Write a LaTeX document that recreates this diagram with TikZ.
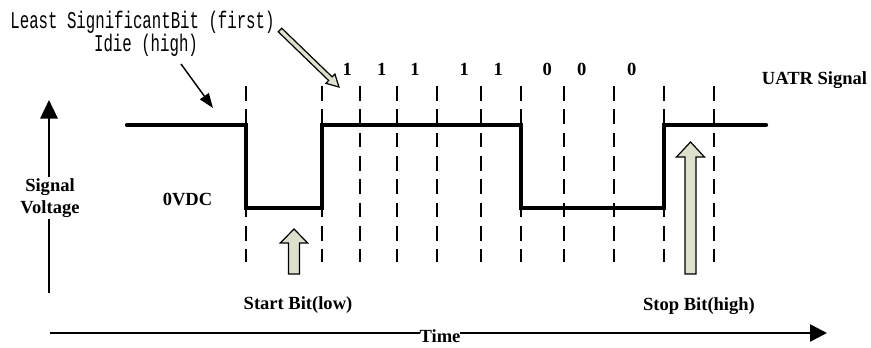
\documentclass[tikz,border=0pt]{standalone}
\usepackage{fontspec}
\usepackage{graphicx}
\setmainfont{Liberation Serif}
\newfontfamily\monofont{Liberation Mono}
\usetikzlibrary{arrows.meta}
\definecolor{blockfill}{RGB}{221,224,205}
\begin{document}
\begin{tikzpicture}[x=0.75pt,y=-0.75pt,
  lbl/.style={font=\fontsize{13.9}{16.5}\selectfont\bfseries, inner sep=0pt},
  mono/.style={font=\fontsize{18}{20}\selectfont\monofont, inner sep=0pt},
  signal/.style={line width=3.2pt, line cap=round, line join=miter},
  gridline/.style={line width=0.95pt, dash pattern=on 11pt off 6.5pt},
  axis/.style={line width=1.9pt},
  blockarrow/.style={draw=black, line width=0.9pt, fill=blockfill, line join=miter},
  pointer/.style={line width=1.1pt, -{Triangle[length=11pt,width=8pt]}},
]
\useasboundingbox (0,0) rectangle (871,347);

% dashed bit boundaries
\foreach \x in {246,322,360,397,437,481,521,564,614,664,714}
  \draw[gridline] (\x,86) -- (\x,262);

% signal waveform
\draw[signal] (127,125) -- (246,125) -- (246,208) -- (322,208) -- (322,125)
  -- (521,125) -- (521,208) -- (664,208) -- (664,125) -- (766,125);

% axes
\coordinate (vbot) at (49,293);
\coordinate (vtop) at (49,100);
\draw[axis, -{Triangle[length=14pt,width=13pt]}] (vbot) -- (vtop);
\coordinate (hl) at (50,333);
\coordinate (hr) at (827,333);
\draw[axis, -{Triangle[length=12.75pt,width=12.75pt]}] (hl) -- (hr);

% labels on axes
\node[lbl, fill=white, align=center, inner sep=1.5pt] (sv) at (50,198) {Signal\\Voltage};
\node[lbl, fill=white, anchor=base] (time) at (440,342) {Time};

% block arrows
\draw[blockarrow] (288.5,274) -- (288.5,243) -- (280.3,243) -- (294,229)
  -- (307.7,243) -- (299.5,243) -- (299.5,274) -- cycle;
\draw[blockarrow] (685,274) -- (685,157) -- (676.5,157) -- (690.5,142)
  -- (704.5,157) -- (696,157) -- (696,274) -- cycle;
\draw[blockarrow] (278.26,31.80) -- (328.63,80.46) -- (325.85,83.34) -- (339,87)
  -- (334.89,73.98) -- (332.11,76.86) -- (281.74,28.20) -- cycle;

% idle pointer
\coordinate (ids) at (181,64);
\coordinate (idt) at (213,108);
\draw[pointer] (ids) -- (idt);

% texts
\node[mono, anchor=base] (lsb) at (142.5,28) {\scalebox{0.655}[1]{Least SignificantBit (first)}};
\node[mono, anchor=base] (idle) at (146,51) {\scalebox{0.655}[1]{Idie (high)}};
\node[lbl, anchor=base] (uatr) at (814.5,84) {UATR Signal};
\node[lbl, anchor=base] (zv) at (187.5,205) {0VDC};
\node[lbl, anchor=base] (start) at (298,309) {Start Bit(low)};
\node[lbl, anchor=base] (stop) at (699,310) {Stop Bit(high)};

\node[lbl, anchor=base] (b1) at (347.3,75) {1};
\node[lbl, anchor=base] (b2) at (381.7,75) {1};
\node[lbl, anchor=base] (b3) at (415,75) {1};
\node[lbl, anchor=base] (b4) at (464.3,75) {1};
\node[lbl, anchor=base] (b5) at (498.3,75) {1};
\node[lbl, anchor=base] (b6) at (547.3,75) {0};
\node[lbl, anchor=base] (b7) at (581.7,75) {0};
\node[lbl, anchor=base] (b8) at (631.7,75) {0};
\end{tikzpicture}
\end{document}
